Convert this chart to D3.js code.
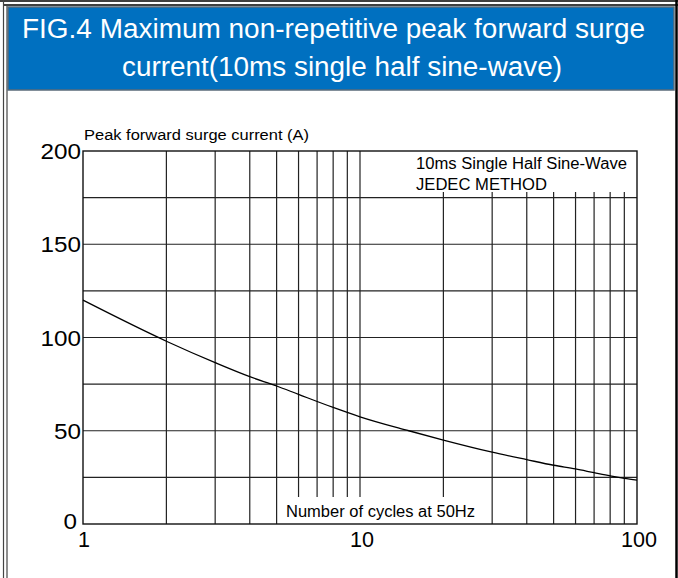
<!DOCTYPE html>
<html>
<head>
<meta charset="utf-8">
<script src="https://cdn.jsdelivr.net/npm/d3@7/dist/d3.min.js"></script>
<style>
	html, body { margin: 0; padding: 0; background: #fff; }
	svg { display: block; font-family: "Liberation Sans", Arial, sans-serif; }
</style>
</head>
<body>
<div id="chart"></div>
<script>
// curve
const cycles = [1, 2, 3, 4, 5, 6, 8, 10, 15, 20, 30, 40, 50, 60, 70, 80, 90, 100];
const surgeCurrent = [120, 98, 86.5, 79, 74, 69.5, 62.5, 57.5, 50, 45, 38.5, 34.5, 31.5, 29.5, 27.5, 25.8, 24.5, 23.5];

// grid / tick values
const xGridValues = [2, 3, 4, 5, 6, 7, 8, 9, 10, 20, 30, 40, 50, 60, 70, 80, 90];
const xTickLabels = [1, 10, 100];
const yGridValues = [25, 50, 75, 100, 125, 150, 175];
const yTickLabels = [0, 50, 100, 150, 200];
const shortBottomLines = [6, 7, 8, 9, 10, 20];   // stop above the x caption
const shortTopLines = [20, 30, 40, 50, 60, 70, 80, 90]; // start below the legend text

const titleLines = ['FIG.4 Maximum non-repetitive peak forward surge', 'current(10ms single half sine-wave)'];
const legendLines = ['10ms Single Half Sine-Wave', 'JEDEC METHOD'];

const options = {
	w: 678,
	h: 578,
	left: 83,
	right: 637,
	top: 151,
	bottom: 524
};

const svg = d3.select('#chart').append('svg')
	.attr('width', options.w)
	.attr('height', options.h);

// outer frame
svg.append('line').attr('x1', 0).attr('x2', options.w).attr('y1', 1).attr('y2', 1).attr('stroke', '#000').attr('stroke-width', 1.5);
svg.append('line').attr('x1', 4).attr('x2', options.w).attr('y1', 5).attr('y2', 5).attr('stroke', '#000').attr('stroke-width', 1.5);
svg.append('line').attr('x1', 3.5).attr('x2', 3.5).attr('y1', 0).attr('y2', options.h).attr('stroke', '#444').attr('stroke-width', 1.2);
svg.append('line').attr('x1', 7).attr('x2', 7).attr('y1', 5).attr('y2', options.h).attr('stroke', '#444').attr('stroke-width', 1.2);
svg.append('line').attr('x1', 676.5).attr('x2', 676.5).attr('y1', 0).attr('y2', options.h).attr('stroke', '#000').attr('stroke-width', 2.5);

// title banner
svg.append('rect')
	.attr('x', 8).attr('y', 7)
	.attr('width', 666).attr('height', 83)
	.attr('fill', '#0070c0')
	.attr('stroke', '#5a6b7a')
	.attr('stroke-width', 1.5);

svg.append('text')
	.attr('x', 22).attr('y', 38)
	.attr('fill', '#fff')
	.attr('font-size', 27)
	.attr('textLength', 623)
	.attr('lengthAdjust', 'spacingAndGlyphs')
	.text(titleLines[0]);

svg.append('text')
	.attr('x', 342).attr('y', 76)
	.attr('fill', '#fff')
	.attr('font-size', 27)
	.attr('text-anchor', 'middle')
	.attr('textLength', 440)
	.attr('lengthAdjust', 'spacingAndGlyphs')
	.text(titleLines[1]);

// scales
const x = d3.scaleLog().domain([1, 100]).range([options.left, options.right]);
const y = d3.scaleLinear().domain([0, 200]).range([options.bottom, options.top]);

const grid = svg.append('g').attr('stroke', '#222').attr('stroke-width', 1.2);

// horizontal grid
grid.selectAll('line.h')
	.data(yGridValues)
	.enter()
	.append('line')
	.attr('class', 'h')
	.attr('x1', options.left).attr('x2', options.right)
	.attr('y1', d => y(d)).attr('y2', d => y(d));

// vertical grid
grid.selectAll('line.v')
	.data(xGridValues)
	.enter()
	.append('line')
	.attr('class', 'v')
	.attr('x1', d => x(d)).attr('x2', d => x(d))
	.attr('y1', d => shortTopLines.includes(d) ? y(178) : y(200))
	.attr('y2', d => shortBottomLines.includes(d) ? y(14.5) : y(0));

// plot frame
svg.append('rect')
	.attr('x', options.left).attr('y', options.top)
	.attr('width', options.right - options.left)
	.attr('height', options.bottom - options.top)
	.attr('fill', 'none')
	.attr('stroke', '#111')
	.attr('stroke-width', 1.4);

// curve
const line = d3.line()
	.x(d => x(d[0]))
	.y(d => y(d[1]))
	.curve(d3.curveMonotoneX);

svg.append('path')
	.datum(d3.zip(cycles, surgeCurrent))
	.attr('d', line)
	.attr('fill', 'none')
	.attr('stroke', '#000')
	.attr('stroke-width', 1.3);

// y tick labels
svg.selectAll('text.ytick')
	.data(yTickLabels)
	.enter()
	.append('text')
	.attr('class', 'ytick')
	.attr('x', d => d === 0 ? options.left - 6 : options.left - 2)
	.attr('y', d => d === 0 ? y(d) + 5 : y(d) + 8)
	.attr('text-anchor', 'end')
	.attr('font-size', 22)
	.attr('textLength', d => String(d).length * 13.5)
	.attr('lengthAdjust', 'spacingAndGlyphs')
	.text(d => d);

// x tick labels
svg.selectAll('text.xtick')
	.data(xTickLabels)
	.enter()
	.append('text')
	.attr('class', 'xtick')
	.attr('x', d => x(d) + (d === 1 ? 1 : 2))
	.attr('y', 547)
	.attr('text-anchor', 'middle')
	.attr('font-size', 22)
	.attr('textLength', d => String(d).length * 12)
	.attr('lengthAdjust', 'spacingAndGlyphs')
	.text(d => d);

// axis captions
svg.append('text')
	.attr('x', 84).attr('y', 140)
	.attr('font-size', 15.5)
	.attr('textLength', 225)
	.attr('lengthAdjust', 'spacingAndGlyphs')
	.text('Peak forward surge current (A)');

svg.append('text')
	.attr('x', 286).attr('y', 517)
	.attr('font-size', 16)
	.attr('textLength', 189)
	.attr('lengthAdjust', 'spacingAndGlyphs')
	.text('Number of cycles at 50Hz');

// legend
svg.selectAll('text.legend')
	.data(legendLines)
	.enter()
	.append('text')
	.attr('class', 'legend')
	.attr('x', 416)
	.attr('y', (d, i) => 169 + i * 21)
	.attr('font-size', 16)
	.attr('textLength', (d, i) => i === 0 ? 211 : 131)
	.attr('lengthAdjust', 'spacingAndGlyphs')
	.text(d => d);
</script>
</body>
</html>
